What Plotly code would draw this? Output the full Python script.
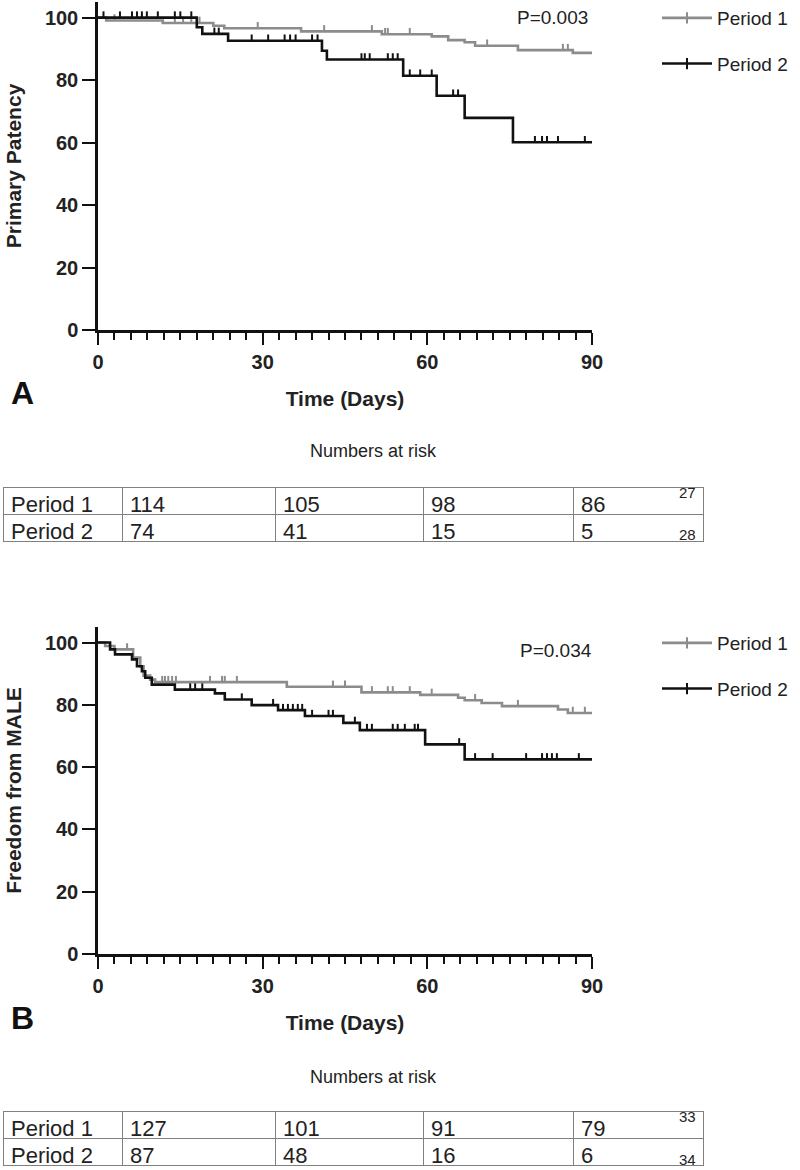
import plotly.graph_objects as go

# ---------------- data ----------------
x_ticks = [0, 30, 60, 90]
series_names = ["Period 1", "Period 2"]

# Panel A – Primary patency: event times (days) and survival (%) after each event
a_p1_times = [1.5, 11.8, 21, 23, 37, 51.7, 60.8, 63.8, 66.8, 68.7, 76.5, 86.5]
a_p1_surv = [99.1, 98.3, 97.4, 96.6, 95.6, 94.7, 94.0, 92.8, 92.1, 91.0, 89.6, 88.7]
a_p1_cens = [3, 14, 15.5, 17, 18.5, 29.1, 41.2, 49.9, 52.3, 52.8, 56.8, 70.9, 84.7, 85.6]

a_p2_times = [18, 19, 23.7, 40.8, 41.7, 55.6, 61.7, 66.8, 75.6]
a_p2_surv = [96.9, 94.8, 92.6, 89.4, 86.6, 81.4, 75.0, 67.9, 60.1]
a_p2_cens = [1, 4, 6.2, 7.1, 8, 8.9, 10.9, 14, 15, 17, 21.2, 22, 28, 31, 34, 35, 36, 39, 40,
             48, 48.6, 49.5, 52.8, 53.7, 54.6, 56.8, 58.7, 60.8, 64.7, 65.6,
             79.6, 80.9, 81.8, 83.8, 88.7]

# Panel B – Freedom from MALE
b_p1_times = [1.3, 3.0, 6.4, 7.7, 8.3, 9.5, 10.4, 34.4, 48, 58.7, 65.6, 66.8, 69.9, 73.6, 83.8, 85.6]
b_p1_surv = [98.9, 97.8, 95.2, 92.4, 89.4, 88.1, 87.3, 85.8, 84.0, 83.2, 82.3, 81.5, 80.6, 79.6, 78.5, 77.4]
b_p1_cens = [5.3, 11.7, 12.2, 12.8, 13.5, 14.2, 20.4, 22.6, 23.1, 25.3, 42.8, 45, 49.9, 52.8,
             53.7, 56.8, 60.8, 68.7, 76.5, 86.5, 88.7]

b_p2_times = [2.2, 3.1, 6.2, 7.1, 8.0, 8.6, 9.8, 14, 21.3, 23.1, 28, 32.8, 37.7, 44.7, 47.7, 59.6, 66.8]
b_p2_surv = [97.8, 96.2, 94.6, 92.4, 90.8, 88.7, 86.5, 84.9, 83.7, 81.7, 79.9, 78.3, 76.4, 74.2,
             71.9, 67.3, 62.5]
b_p2_cens = [16.8, 17.7, 19, 26.2, 31.9, 33.7, 34.6, 35.5, 36.4, 37.2, 39, 42, 42.8, 46.8, 49,
             49.9, 53.7, 54.6, 55.9, 57.7, 58.3, 65.8, 68.7, 71.9, 78, 80.9, 81.8, 82.7, 83.6, 87.6]

# Numbers at risk tables
risk_rows = ["Period 1", "Period 2"]
a_risk_p1 = [114, 105, 98, 86]
a_risk_p2 = [74, 41, 15, 5]
a_refs = ["27", "28"]
b_risk_p1 = [127, 101, 91, 79]
b_risk_p2 = [87, 48, 16, 6]
b_refs = ["33", "34"]

p_values = ["P=0.003", "P=0.034"]
y_titles = ["Primary Patency", "Freedom from MALE"]
panel_labels = ["A", "B"]

# ---------------- style ----------------
W, H = 800, 1170
FONT = "Liberation Sans, Arial, Helvetica, sans-serif"
C1 = "#8c8c8c"
C2 = "#111111"
TXT = "#222222"
X0, X1 = 98, 592


def py(p):
    return 1 - p / H


def step_xy(times, surv):
    xs = [0] + list(times) + [90]
    ys = [100] + list(surv) + [surv[-1]]
    return xs, ys


def surv_at(t, times, surv):
    s = 100
    for ti, si in zip(times, surv):
        if ti <= t:
            s = si
    return s


def cens_xy(cens, times, surv, h=2.0):
    xs, ys = [], []
    for c in cens:
        s = surv_at(c, times, surv)
        xs += [c, c, None]
        ys += [s, s + h, None]
    return xs, ys


fig = go.Figure()

panels = [
    ("x", "y", "legend", [(a_p1_times, a_p1_surv, a_p1_cens), (a_p2_times, a_p2_surv, a_p2_cens)]),
    ("x2", "y2", "legend2", [(b_p1_times, b_p1_surv, b_p1_cens), (b_p2_times, b_p2_surv, b_p2_cens)]),
]

for xa, ya, lg, series in panels:
    for (times, surv, cens), name, col in zip(series, series_names, [C1, C2]):
        sx, sy = step_xy(times, surv)
        fig.add_trace(go.Scatter(x=sx, y=sy, mode="lines", line=dict(color=col, width=2.6, shape="hv"),
                                 xaxis=xa, yaxis=ya, showlegend=False, cliponaxis=False, hoverinfo="skip"))
        cx, cy = cens_xy(cens, times, surv)
        fig.add_trace(go.Scatter(x=cx, y=cy, mode="lines", line=dict(color=col, width=2),
                                 xaxis=xa, yaxis=ya, showlegend=False, cliponaxis=False, hoverinfo="skip"))
    for name, col in zip(series_names, [C1, C2]):
        fig.add_trace(go.Scatter(x=[None], y=[None], mode="lines+markers", name=name,
                                 line=dict(color=col, width=2.6),
                                 marker=dict(symbol="line-ns", size=8, line=dict(color=col, width=2)),
                                 xaxis=xa, yaxis=ya, legend=lg, legendgroup=lg + name))

# tables
tables = [
    (a_risk_p1, a_risk_p2, 487, 545),
    (b_risk_p1, b_risk_p2, 1111, 1169),
]
colw = [119, 153, 148, 150, 130]
for r1, r2, top, bot in tables:
    header_vals = [risk_rows[0]] + [str(v) for v in r1]
    cell_vals = [[risk_rows[1]]] + [[str(v)] for v in r2]
    fig.add_trace(go.Table(
        domain=dict(x=[3 / W, 703 / W], y=[py(bot), py(top)]),
        columnwidth=colw,
        header=dict(values=header_vals, align="left", height=27,
                    fill_color="white", line=dict(color="#808080", width=1),
                    font=dict(family=FONT, size=22, color=TXT)),
        cells=dict(values=cell_vals, align="left", height=27,
                   fill_color="white", line=dict(color="#808080", width=1),
                   font=dict(family=FONT, size=22, color=TXT)),
    ))

axis_common = dict(showgrid=False, zeroline=False, showline=True, linecolor="#111", linewidth=2.5,
                   ticks="outside", tickwidth=2, tickcolor="#111", automargin=False,
                   tickfont=dict(family=FONT, size=20, color=TXT, weight="bold"))

xa_common = dict(axis_common, range=[0, 90], tickmode="linear", tick0=0, dtick=30, ticklen=12,
                 minor=dict(dtick=3, tick0=0, ticks="outside", ticklen=7, tickwidth=2, tickcolor="#111"),
                 title=dict(text="Time (Days)", font=dict(family=FONT, size=21, color=TXT, weight="bold"),
                            standoff=20))
ya_common = dict(axis_common, range=[0, 105], tickmode="linear", tick0=0, dtick=20, ticklen=13)

fig.update_layout(
    width=W, height=H, autosize=False,
    margin=dict(l=0, r=0, t=0, b=0, autoexpand=False),
    paper_bgcolor="white", plot_bgcolor="white",
    font=dict(family=FONT, color=TXT),
    xaxis=dict(xa_common, domain=[X0 / W, X1 / W], anchor="y"),
    yaxis=dict(ya_common, domain=[py(330), py(2)], anchor="x",
               title=dict(text=y_titles[0], font=dict(family=FONT, size=21, color=TXT, weight="bold"),
                          standoff=18)),
    xaxis2=dict(xa_common, domain=[X0 / W, X1 / W], anchor="y2"),
    yaxis2=dict(ya_common, domain=[py(954), py(627)], anchor="x2",
                title=dict(text=y_titles[1], font=dict(family=FONT, size=21, color=TXT, weight="bold"),
                           standoff=18)),
    legend=dict(x=657 / W, y=py(-1), xanchor="left", yanchor="top", traceorder="grouped",
                itemwidth=50, tracegroupgap=18, font=dict(family=FONT, size=19, color=TXT),
                bgcolor="rgba(0,0,0,0)"),
    legend2=dict(x=657 / W, y=py(624), xanchor="left", yanchor="top", traceorder="grouped",
                 itemwidth=50, tracegroupgap=18, font=dict(family=FONT, size=19, color=TXT),
                 bgcolor="rgba(0,0,0,0)"),
)

ann = []
# p-values
ann.append(dict(text=p_values[0], x=590 / W, y=py(18), xref="paper", yref="paper",
                xanchor="right", yanchor="middle", showarrow=False, font=dict(family=FONT, size=19, color=TXT)))
ann.append(dict(text=p_values[1], x=594 / W, y=py(650), xref="paper", yref="paper",
                xanchor="right", yanchor="middle", showarrow=False, font=dict(family=FONT, size=19, color=TXT)))
# panel letters
for lab, yc in zip(panel_labels, [393, 1018]):
    ann.append(dict(text=lab, x=9 / W, y=py(yc), xref="paper", yref="paper", xanchor="left",
                    yanchor="middle", showarrow=False,
                    font=dict(family=FONT, size=32, color="#111", weight="bold")))
# Numbers at risk titles
for yc in [451, 1077]:
    ann.append(dict(text="Numbers at risk", x=373 / W, y=py(yc), xref="paper", yref="paper",
                    xanchor="center", yanchor="middle", showarrow=False,
                    font=dict(family=FONT, size=18, color=TXT)))
# reference superscripts
for refs, top in [(a_refs, 487), (b_refs, 1111)]:
    ann.append(dict(text=refs[0], x=698 / W, y=py(top + 5), xref="paper", yref="paper",
                    xanchor="right", yanchor="middle", showarrow=False,
                    font=dict(family=FONT, size=15, color=TXT)))
    ann.append(dict(text=refs[1], x=698 / W, y=py(top + 48), xref="paper", yref="paper",
                    xanchor="right", yanchor="middle", showarrow=False,
                    font=dict(family=FONT, size=15, color=TXT)))
fig.update_layout(annotations=ann)

fig.write_html("out.html", config={"displayModeBar": False},
               post_script="document.body.style.margin='0px';document.body.style.overflow='hidden';")
